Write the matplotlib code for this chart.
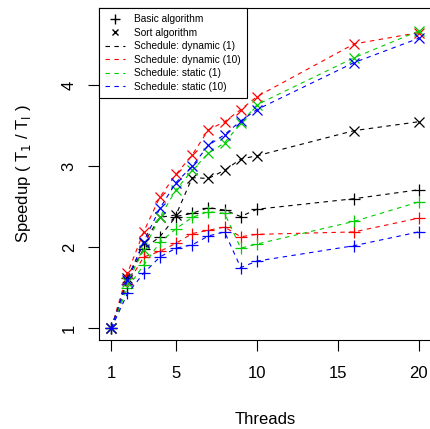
import matplotlib
matplotlib.use("Agg")
import matplotlib.pyplot as plt
from matplotlib.lines import Line2D

plt.rcParams['font.family'] = ['Liberation Sans', 'DejaVu Sans']

threads = [1, 2, 3, 4, 5, 6, 7, 8, 9, 10, 16, 20]

schedules = ["Schedule: dynamic (1)", "Schedule: dynamic (10)",
             "Schedule: static (1)", "Schedule: static (10)"]
colors = ["black", "red", "#00CD00", "blue"]

# speedup of the basic algorithm (+)
basic_dyn1 = [1, 1.62, 1.98, 2.13, 2.38, 2.42, 2.49, 2.46, 2.38, 2.47, 2.60, 2.71]
basic_dyn10 = [1, 1.55, 1.88, 1.95, 2.05, 2.17, 2.21, 2.25, 2.13, 2.16, 2.19, 2.36]
basic_sta1 = [1, 1.50, 1.78, 2.06, 2.23, 2.37, 2.44, 2.42, 1.99, 2.04, 2.32, 2.56]
basic_sta10 = [1, 1.43, 1.68, 1.88, 1.99, 2.03, 2.14, 2.19, 1.75, 1.83, 2.02, 2.19]

# speedup of the sort algorithm (x)
sort_dyn1 = [1, 1.62, 2.05, 2.37, 2.40, 2.86, 2.85, 2.95, 3.09, 3.13, 3.44, 3.55]
sort_dyn10 = [1, 1.68, 2.19, 2.62, 2.90, 3.14, 3.45, 3.55, 3.70, 3.86, 4.51, 4.65]
sort_sta1 = [1, 1.57, 1.97, 2.37, 2.71, 2.95, 3.16, 3.29, 3.53, 3.76, 4.34, 4.67]
sort_sta10 = [1, 1.60, 2.07, 2.48, 2.80, 3.00, 3.26, 3.39, 3.56, 3.70, 4.28, 4.58]

basic = [basic_dyn1, basic_dyn10, basic_sta1, basic_sta10]
sort = [sort_dyn1, sort_dyn10, sort_sta1, sort_sta10]

fig = plt.figure(figsize=(4.30, 4.29), dpi=100)
ax = fig.add_axes([99 / 430, 1 - 340 / 429, 332 / 430, 332 / 429])

dash = (0, (4, 4))
for b, s, c in zip(basic, sort, colors):
    ax.plot(threads, b, color=c, lw=0.8, linestyle=dash,
            marker="+", markersize=9, markeredgewidth=0.9)
    ax.plot(threads, s, color=c, lw=0.8, linestyle=dash,
            marker="x", markersize=7, markeredgewidth=0.9)

ax.set_xlim(0.24, 20.76)
ax.set_ylim(0.856, 4.954)
ax.set_xticks([1, 5, 10, 15, 20])
ax.set_yticks([1, 2, 3, 4])
ax.tick_params(direction="out", length=8, width=0.8, labelsize=12)
ax.tick_params(axis="x", pad=11)
ax.tick_params(axis="y", pad=8)
for lab in ax.get_yticklabels():
    lab.set_rotation(90)
    lab.set_va("center")
for sp in ax.spines.values():
    sp.set_linewidth(0.8)

ax.set_xlabel("Threads", fontsize=12, labelpad=22)
ax.set_ylabel("Speedup ( T$_1$ / T$_\\mathregular{I}$ )", fontsize=12, labelpad=21)

handles = [Line2D([], [], color="black", linestyle="none", marker="+", markersize=7),
           Line2D([], [], color="black", linestyle="none", marker="x", markersize=5)]
handles += [Line2D([], [], color=c, lw=0.8, linestyle=dash) for c in colors]
labels = ["Basic algorithm", "Sort algorithm"] + schedules
leg = ax.legend(handles, labels, loc="upper left", borderaxespad=0, fontsize=7.3,
                frameon=True, fancybox=False, framealpha=1, edgecolor="black",
                handlelength=2.0, handletextpad=0.9, labelspacing=0.35,
                borderpad=0.6)
leg.get_frame().set_linewidth(0.8)

fig.savefig("out.png", dpi=100)
